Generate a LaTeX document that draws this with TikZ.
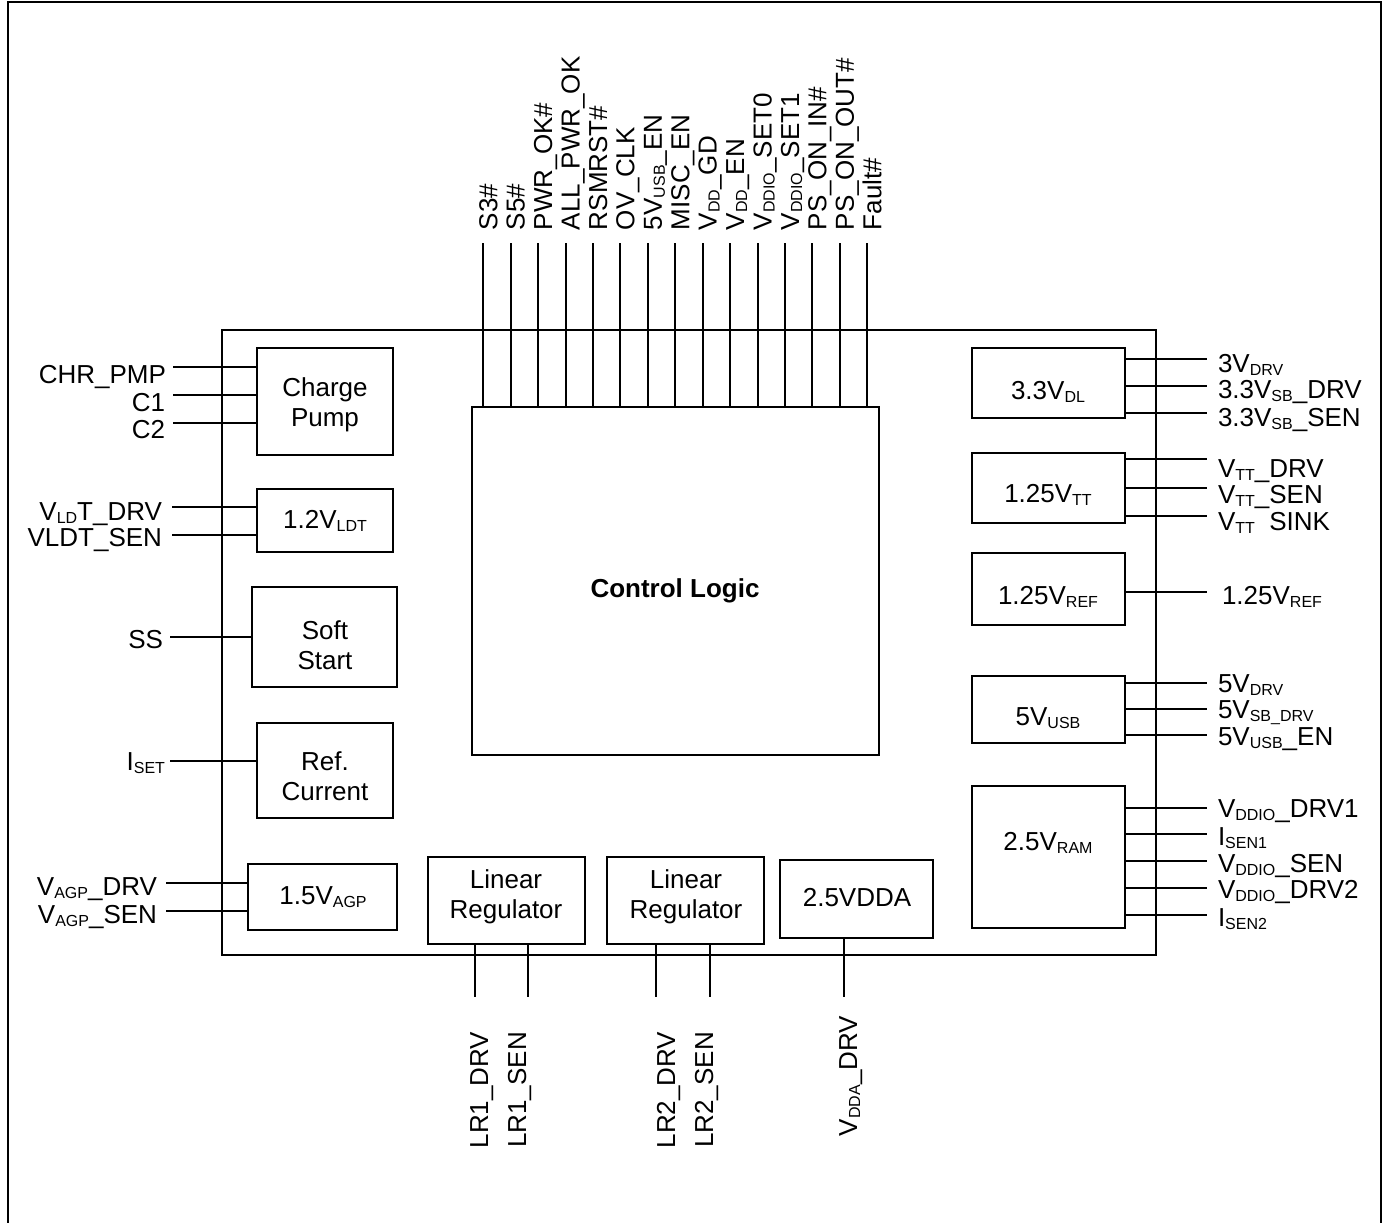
\documentclass[tikz,border=0pt]{standalone}
\usepackage{fontspec}
\setmainfont{Liberation Sans}
\newcommand\subt[1]{\raisebox{-3pt}{\fontsize{16}{16}\selectfont #1}}
\tikzset{
  txt/.style={font=\fontsize{26}{30}\selectfont, inner sep=0pt, outer sep=0pt},
  blk/.style={draw, line width=1.9pt, inner sep=0pt, outer sep=0pt},
  btxt/.style={txt, align=center},
  wire/.style={line width=1.9pt},
  toplbl/.style={txt, rotate=90, anchor=base west},
  botlbl/.style={txt, rotate=90, anchor=base},
  rlbl/.style={txt, anchor=base west},
  llbl/.style={txt, anchor=base east},
}
\begin{document}
\begin{tikzpicture}[x=1pt,y=-1pt]
\useasboundingbox (0,0) rectangle (1390,1223);
% outer frame
\draw[line width=2.8pt] (8,1223) -- (8,2) -- (1381,2) -- (1381,1223);

% main box
\node[blk, minimum width=934pt, minimum height=625pt] (main) at (689,642.5) {};

% left blocks
\node[blk, minimum width=136pt, minimum height=107pt] (cp) at (325,401.5) {};
\node[btxt] (cpt) at (325,405) {Charge\\Pump};
\node[blk, minimum width=136pt, minimum height=63pt] (ldt) at (325,520.5) {};
\node[btxt] (ldtt) at (325,521) {1.2V\subt{LDT}};
\node[blk, minimum width=145pt, minimum height=100pt] (ss) at (324.5,637) {};
\node[btxt] (sst) at (325,645) {Soft\\Start};
\node[blk, minimum width=136pt, minimum height=95pt] (rc) at (325,770.5) {};
\node[btxt] (rct) at (325,776) {Ref.\\Current};
\node[blk, minimum width=149pt, minimum height=66pt] (agp) at (322.5,897) {};
\node[btxt] (agpt) at (323,897) {1.5V\subt{AGP}};

% bottom blocks
\node[blk, minimum width=157pt, minimum height=87pt] (lr1) at (506.5,900.5) {};
\node[btxt] (lr1t) at (506,897) {Linear\\Regulator};
\node[blk, minimum width=157pt, minimum height=87pt] (lr2) at (685.5,900.5) {};
\node[btxt] (lr2t) at (686,897) {Linear\\Regulator};
\node[blk, minimum width=153pt, minimum height=78pt] (dda) at (856.5,899) {};
\node[btxt] (ddat) at (857,898) {2.5VDDA};

% control logic
\node[blk, minimum width=407pt, minimum height=348pt] (cl) at (675.5,581) {};
\node[btxt, font=\fontsize{26}{30}\selectfont\bfseries] (clt) at (675,591) {Control Logic};

% right blocks
\node[blk, minimum width=153pt, minimum height=70pt] (b33) at (1048.5,383) {};
\node[btxt] (b33t) at (1048,392) {3.3V\subt{DL}};
\node[blk, minimum width=153pt, minimum height=70pt] (btt) at (1048.5,488) {};
\node[btxt] (bttt) at (1048,495) {1.25V\subt{TT}};
\node[blk, minimum width=153pt, minimum height=72pt] (bref) at (1048.5,589) {};
\node[btxt] (breft) at (1048,597) {1.25V\subt{REF}};
\node[blk, minimum width=153pt, minimum height=67pt] (busb) at (1048.5,709.5) {};
\node[btxt] (busbt) at (1048,718) {5V\subt{USB}};
\node[blk, minimum width=153pt, minimum height=142pt] (bram) at (1048.5,857) {};
\node[btxt] (bramt) at (1048,843) {2.5V\subt{RAM}};

% top pins
\foreach \i/\t in {0/S3\#, 1/S5\#, 2/PWR\_OK\#, 3/ALL\_PWR\_OK, 4/RSMRST\#, 5/OV\_CLK,
  6/5V\subt{USB}\_EN, 7/MISC\_EN, 8/V\subt{DD}\_GD, 9/V\subt{DD}\_EN, 10/V\subt{DDIO}\_SET0,
  11/V\subt{DDIO}\_SET1, 12/PS\_ON\_IN\#, 13/PS\_ON\_OUT\#, 14/Fault\#}{
  \coordinate (tp\i) at ({round(483.3+27.43*\i)},243);
  \node[toplbl] (tl\i) at ({497.3+27.43*\i},230) {\t};
  \draw[wire] (tp\i) -- (tp\i |- cl.north);
}

% left pins
\foreach \n/\x/\y/\b/\lx/\t/\bx in {
  chr/173/367/383/166/CHR\_PMP/cp,
  c1/173/395/411/165/C1/cp,
  c2/173/423/438/165/C2/cp,
  vld/172/507/520/162/V\subt{LD}T\_DRV/ldt,
  vls/172/535/546/162/VLDT\_SEN/ldt,
  ss/170/637/648/163/SS/ss,
  iset/170/761/770/165/I\subt{SET}/rc,
  agd/166/883/895/157/V\subt{AGP}\_DRV/agp,
  ags/166/911/923/157/V\subt{AGP}\_SEN/agp}{
  \coordinate (l\n) at (\x,\y);
  \node[llbl] (ll\n) at (\lx,\b) {\t};
  \draw[wire] (l\n) -- (l\n -| \bx.west);
}

% right pins
\foreach \n/\y/\b/\t/\bx in {
  a/359/372/3V\subt{DRV}/b33,
  b/386/398/3.3V\subt{SB}\_DRV/b33,
  c/413/426/3.3V\subt{SB}\_SEN/b33,
  d/459/477/V\subt{TT}\_DRV/btt,
  e/488/503/V\subt{TT}\_SEN/btt,
  f/516/530/V\subt{TT}\hphantom{\_}SINK/btt,
  g/592/604/\hspace{4pt}1.25V\subt{REF}/bref,
  h/683/692/5V\subt{DRV}/busb,
  i/709/718/5V\subt{SB\_DRV}/busb,
  j/735/745/5V\subt{USB}\_EN/busb,
  k/808/817/V\subt{DDIO}\_DRV1/bram,
  l/834/845/I\subt{SEN1}/bram,
  m/861/872/V\subt{DDIO}\_SEN/bram,
  n/888/898/V\subt{DDIO}\_DRV2/bram,
  o/915/926/I\subt{SEN2}/bram}{
  \coordinate (r\n) at (1207,\y);
  \node[rlbl] (rl\n) at (1218,\b) {\t};
  \draw[wire] (\bx.east |- r\n) -- (r\n);
}

% bottom pins
\foreach \n/\x/\lx/\ly/\t/\bx in {
  p1/475/488/1090/LR1\_DRV/lr1,
  p2/528/526/1090/LR1\_SEN/lr1,
  p3/656/675/1090/LR2\_DRV/lr2,
  p4/710/713/1090/LR2\_SEN/lr2,
  p5/844/857/1076/V\subt{DDA}\_DRV/dda}{
  \coordinate (b\n) at (\x,997);
  \node[botlbl] (bl\n) at (\lx,\ly) {\t};
  \draw[wire] (\bx.south -| b\n) -- (b\n);
}
\end{tikzpicture}
\end{document}
